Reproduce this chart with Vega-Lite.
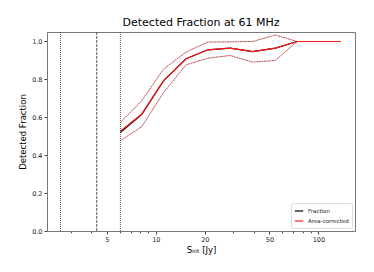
{
  "$schema": "https://vega.github.io/schema/vega-lite/v6.json",
  "width": 308,
  "height": 199,
  "autosize": {"type": "none"},
  "padding": {"left": 47, "top": 32, "right": 19, "bottom": 41},
  "background": "white",
  "title": {"text": "Detected Fraction at 61 MHz", "font": "DejaVu Sans", "fontSize": 11, "fontWeight": "normal", "color": "black", "offset": 4},
  "config": {
    "view": {"stroke": "#777", "strokeWidth": 1},
    "axis": {"labelFont": "DejaVu Sans", "titleFont": "DejaVu Sans", "labelFontSize": 6.5, "titleFontSize": 8.5, "titleFontWeight": "normal", "labelColor": "#222", "titleColor": "black", "domainColor": "#777", "tickColor": "#444", "tickSize": 3, "grid": false, "labelOverlap": false, "labelFlush": false}
  },
  "datasets": {
    "vlines": [
      {"x": 2.59, "style": "dotted"},
      {"x": 4.33, "style": "dashed"},
      {"x": 6.05, "style": "dotted"}
    ],
    "curves": [
      {"s": 6.05, "series": "Fraction", "f": 0.52},
      {"s": 8.2, "series": "Fraction", "f": 0.615},
      {"s": 11.14, "series": "Fraction", "f": 0.792},
      {"s": 15.35, "series": "Fraction", "f": 0.909},
      {"s": 20.9, "series": "Fraction", "f": 0.956},
      {"s": 28.6, "series": "Fraction", "f": 0.965},
      {"s": 39.5, "series": "Fraction", "f": 0.947},
      {"s": 54.4, "series": "Fraction", "f": 0.965},
      {"s": 74, "series": "Fraction", "f": 1.0},
      {"s": 101, "series": "Fraction", "f": 1.0},
      {"s": 137, "series": "Fraction", "f": 1.0},
      {"s": 6.05, "series": "Area-corrected", "f": 0.526},
      {"s": 8.2, "series": "Area-corrected", "f": 0.618},
      {"s": 11.14, "series": "Area-corrected", "f": 0.792},
      {"s": 15.35, "series": "Area-corrected", "f": 0.909},
      {"s": 20.9, "series": "Area-corrected", "f": 0.956},
      {"s": 28.6, "series": "Area-corrected", "f": 0.965},
      {"s": 39.5, "series": "Area-corrected", "f": 0.947},
      {"s": 54.4, "series": "Area-corrected", "f": 0.965},
      {"s": 74, "series": "Area-corrected", "f": 1.0},
      {"s": 101, "series": "Area-corrected", "f": 1.0},
      {"s": 137, "series": "Area-corrected", "f": 1.0}
    ],
    "bounds": [
      {"s": 6.05, "bound": "upper", "f": 0.572},
      {"s": 8.2, "bound": "upper", "f": 0.688},
      {"s": 11.14, "bound": "upper", "f": 0.854},
      {"s": 15.35, "bound": "upper", "f": 0.944},
      {"s": 20.9, "bound": "upper", "f": 0.997},
      {"s": 28.6, "bound": "upper", "f": 0.998},
      {"s": 39.5, "bound": "upper", "f": 1.0},
      {"s": 54.4, "bound": "upper", "f": 1.034},
      {"s": 74, "bound": "upper", "f": 1.0},
      {"s": 6.05, "bound": "lower", "f": 0.476},
      {"s": 8.2, "bound": "lower", "f": 0.551},
      {"s": 11.14, "bound": "lower", "f": 0.73},
      {"s": 15.35, "bound": "lower", "f": 0.877},
      {"s": 20.9, "bound": "lower", "f": 0.912},
      {"s": 28.6, "bound": "lower", "f": 0.926},
      {"s": 39.5, "bound": "lower", "f": 0.891},
      {"s": 54.4, "bound": "lower", "f": 0.9},
      {"s": 74, "bound": "lower", "f": 1.0}
    ],
    "minor": [
      {"x": 3}, {"x": 4}, {"x": 6}, {"x": 7}, {"x": 8}, {"x": 9},
      {"x": 30}, {"x": 40}, {"x": 60}, {"x": 70}, {"x": 80}, {"x": 90}
    ]
  },
  "layer": [
    {
      "data": {"name": "minor"},
      "mark": {"type": "tick", "opacity": 0},
      "encoding": {
        "x": {"field": "x", "type": "quantitative", "scale": {"type": "log", "domain": [2.14, 168]},
          "axis": {"orient": "bottom", "values": [3, 4, 6, 7, 8, 9, 30, 40, 60, 70, 80, 90], "labels": false, "tickSize": 1.8, "title": null, "domain": false}}
      }
    },
    {
      "data": {"name": "vlines"},
      "mark": {"type": "rule", "color": "#444", "strokeWidth": 0.9},
      "encoding": {
        "x": {"field": "x", "type": "quantitative", "scale": {"type": "log", "domain": [2.14, 168]},
          "axis": {"orient": "bottom", "values": [5, 10, 20, 50, 100], "format": "d", "title": "Sᵢₙₜ [Jy]", "titlePadding": 3, "labelPadding": 2, "labelOverlap": false}},
        "strokeDash": {"field": "style", "type": "nominal", "scale": {"domain": ["dotted", "dashed"], "range": [[1, 1], [3, 1]]}, "legend": null}
      }
    },
    {
      "data": {"name": "bounds"},
      "mark": {"type": "line", "color": "#b03838", "strokeWidth": 0.9, "strokeDash": [2, 0.6]},
      "encoding": {
        "x": {"field": "s", "type": "quantitative", "scale": {"type": "log", "domain": [2.14, 168]}, "axis": null},
        "y": {"field": "f", "type": "quantitative", "scale": {"domain": [0, 1.05], "nice": false},
          "axis": {"values": [0, 0.2, 0.4, 0.6, 0.8, 1.0], "format": ".1f", "title": "Detected Fraction", "titlePadding": 4, "labelPadding": 2, "labelOverlap": false}},
        "detail": {"field": "bound", "type": "nominal"}
      }
    },
    {
      "data": {"name": "curves"},
      "mark": {"type": "line", "strokeWidth": 1.2},
      "encoding": {
        "x": {"field": "s", "type": "quantitative", "scale": {"type": "log", "domain": [2.14, 168]}, "axis": null},
        "y": {"field": "f", "type": "quantitative", "scale": {"domain": [0, 1.05], "nice": false},
          "axis": {"values": [0, 0.2, 0.4, 0.6, 0.8, 1.0], "format": ".1f", "title": "Detected Fraction", "titlePadding": 4, "labelPadding": 2, "labelOverlap": false}},
        "color": {"field": "series", "type": "nominal", "sort": ["Fraction", "Area-corrected"],
          "scale": {"domain": ["Fraction", "Area-corrected"], "range": ["black", "#ff1a1a"]},
          "legend": {"title": null, "orient": "bottom-right", "offset": 3, "symbolType": "stroke", "symbolSize": 70, "symbolStrokeWidth": 1.2,
            "labelFont": "DejaVu Sans", "labelFontSize": 5.5, "labelColor": "#222", "fillColor": "white", "strokeColor": "#ddd", "padding": 3, "rowPadding": 1, "cornerRadius": 2}},
        "order": {"field": "series", "sort": "descending"}
      }
    }
  ],
  "resolve": {"axis": {"x": "independent"}}
}
